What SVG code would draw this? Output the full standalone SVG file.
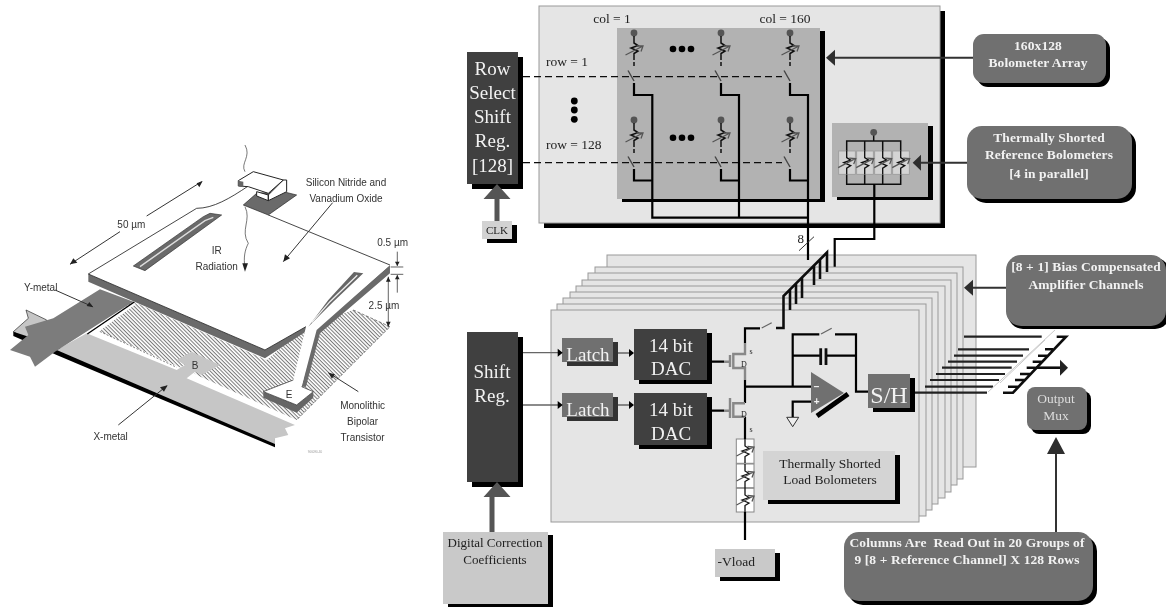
<svg xmlns="http://www.w3.org/2000/svg" width="1166" height="607" viewBox="0 0 1166 607">
<style>
text{font-family:"Liberation Serif","Times New Roman",serif;fill:#222}
.sans text,text.sans{font-family:"Liberation Sans",Arial,sans-serif;fill:#333;font-size:30px}
.m{text-anchor:middle}
.w{fill:#f2f2f2}
.cb{font-weight:bold;font-size:13.5px;fill:#f2f2f2;text-anchor:middle;letter-spacing:.1px;white-space:pre}
.l19{font-size:19px}
.l13{font-size:13.5px}
.sh{fill:#000}
.panel{fill:#e5e5e5;stroke:#999;stroke-width:1}
.inner{fill:#b2b2b2}
.dark{fill:#404040}
.call{fill:#6f6f6f}
.lt{fill:#c9c9c9}
.wire{fill:none;stroke:#000;stroke-width:2.2;stroke-linejoin:miter}
.thick{fill:none;stroke:#111;stroke-width:2.6}
.dash{fill:none;stroke:#111;stroke-width:1.2;stroke-dasharray:7 4}
.grey{fill:none;stroke:#666;stroke-width:1.3}
.gw{fill:none;stroke:#888;stroke-width:2.400}
.ptr{fill:none;stroke:#333;stroke-width:2}
.fthin{fill:none;stroke:#333;stroke-width:3}
</style>
<defs>
<filter id="soft" filterUnits="userSpaceOnUse" x="0" y="0" width="1166" height="607"><feGaussianBlur stdDeviation=".45"/></filter>
<pattern id="hatch" width="8" height="8" patternUnits="userSpaceOnUse" patternTransform="rotate(45)"><rect width="8" height="8" fill="#fff"/><rect width="8" height="3" fill="#777"/></pattern>
<g id="bolo">
<circle cx="0" cy="0" r="3.4" fill="#555"/>
<path d="M0 3V10L4 12.500L-3 15L4 18L0 20.500V27M0 29V33" fill="none" stroke="#111" stroke-width="1.500"/>
<path d="M-8.5 22L9 13M2.500 13L9 13L7 18.500" fill="none" stroke="#555" stroke-width="1.300"/>
</g>
<g id="cell">
<path d="M0 -12V-5L4 -2.500L-3 0L4 3L0 5.500V12" fill="none" stroke="#111" stroke-width="1.300"/>
<path d="M-8.500 5L8.500 -4M2.500 -4.500L9 -4L7 1.500" fill="none" stroke="#555" stroke-width="1.300"/>
</g>
<g id="sw">
<path d="M-6 -6.500L0 4" fill="none" stroke="#444" stroke-width="1.400"/>
</g>
</defs>
<g filter="url(#soft)">
<g id="bolometer-figure" transform="translate(0 130) scale(.3333)">
<path d="M40 605L85 565L78 540L140 570L100 640Z" fill="#c6c6c6" stroke="#222" stroke-width="2"/>
<path d="M40 605V618L170 675L825 952V925L170 648Z" fill="#000"/>
<path d="M290 600L400 515L800 690L920 590L1060 540L1170 590L890 870Z" fill="url(#hatch)"/>
<path d="M1060 540L1170 590L890 870" fill="none" stroke="#444" stroke-width="2" stroke-dasharray="9 5"/>
<path d="M290 600L400 515M290 600L530 712" fill="none" stroke="#444" stroke-width="2" stroke-dasharray="6 5"/>
<path d="M262 612L400 518L408 522L290 610L532 718L555 705L600 745L880 880L870 872L262 612Z" fill="#fff"/>
<path d="M170 660L260 610L530 720L555 705L530 690L575 665L660 705L605 735L585 725L560 745L885 885L855 895L865 915L825 925L825 942Z" fill="#c6c6c6"/>
<path d="M300 478L400 515L165 665L105 710L90 680L30 660L85 615L75 590L160 565Z" fill="#7c7c7c"/>
<path d="M262 612L403 516" fill="none" stroke="#000" stroke-width="4"/>
<path d="M790 785V803L890 848L940 803V785L890 825Z" fill="#666"/>
<path d="M265 432V455L795 685L925 600L915 590L795 660Z" fill="#6a6a6a"/>
<path d="M1170 405V430L960 610L918 770L905 770L945 600Z" fill="#6a6a6a"/>
<path d="M265 432L590 235C640 235 690 205 720 190L745 170L730 225L805 255L1170 405L950 600L905 770L940 785L890 825L790 785L880 750L918 590L795 660Z" fill="#fff"/>
<path d="M265 432L590 235C640 235 690 205 745 168M805 255L1170 405M795 660L265 432M795 660L918 590" fill="none" stroke="#222" stroke-width="2.500"/>
<path d="M905 770L940 785L890 825L790 785L880 750" fill="none" stroke="#222" stroke-width="2"/>
<path d="M400 408L610 260L630 250L665 255L435 422Z" fill="#6a6a6a" stroke="#333" stroke-width="2"/>
<path d="M420 410L615 272L640 262" fill="none" stroke="#ddd" stroke-width="4"/>
<path d="M1062 426L1090 430L1000 515L925 590L985 510Z" fill="#666"/>
<path d="M1072 436L990 515L935 578" fill="none" stroke="#eee" stroke-width="4"/>
<path d="M730 225L770 190L850 185L890 195L805 255Z" fill="#6a6a6a" stroke="#222" stroke-width="2"/>
<path d="M770 185L805 195V212L770 198ZM805 195L850 150L860 150V185L805 212Z" fill="#fff" stroke="#222" stroke-width="3"/>
<path d="M715 152L760 125L850 150L805 190L745 170L715 168Z" fill="#fff" stroke="#222" stroke-width="3"/>
<path d="M715 152V168L730 172V155Z" fill="#666"/>
<path d="M735 45C755 80 720 100 735 125M735 230C755 270 720 300 745 340C735 360 730 380 735 415" fill="none" stroke="#333" stroke-width="2"/>
<path d="M727 400H744L735 425Z" fill="#222"/>
<path d="M440 258L605 155M360 305L210 403" class="fthin"/>
<path d="M590 160L608 153L598 172ZM210 403L220 385L232 398Z" fill="#222"/>
<path d="M998 218L850 395" class="fthin"/><path d="M850 395L855 373L870 385Z" fill="#222"/>
<path d="M1192 365V408M1192 435V488M1165 440V590M1172 411H1210M1172 433H1210" fill="none" stroke="#444" stroke-width="2.500"/>
<path d="M1185 395H1199L1192 408ZM1185 448H1199L1192 435ZM1158 455H1172L1165 440ZM1158 575H1172L1165 590Z" fill="#222"/>
<path d="M165 480L278 530" class="fthin"/><path d="M280 532L260 528L268 516Z" fill="#222"/>
<path d="M355 885L500 768" class="fthin"/><path d="M503 766L492 785L480 772Z" fill="#222"/>
<path d="M1075 785L985 728" class="fthin"/><path d="M985 728L1005 733L996 746Z" fill="#222"/>
<g class="sans">
<text x="1038" y="167" class="m">Silicon Nitride and</text>
<text x="1038" y="215" class="m">Vanadium Oxide</text>
<text x="394" y="293" class="m">50 µm</text>
<text x="650" y="372" class="m">IR</text>
<text x="650" y="420" class="m">Radiation</text>
<text x="1178" y="347" class="m">0.5 µm</text>
<text x="1152" y="537" class="m">2.5 µm</text>
<text x="122" y="482" class="m">Y-metal</text>
<text x="332" y="930" class="m">X-metal</text>
<text x="585" y="717" class="m">B</text>
<text x="867" y="803" class="m">E</text>
<text x="1088" y="838" class="m">Monolithic</text>
<text x="1088" y="886" class="m">Bipolar</text>
<text x="1088" y="934" class="m">Transistor</text>
<text x="945" y="970" class="m" style="font-size:9px;fill:#999">906090-30</text>
</g>
</g>

<g id="array-panel">
<rect x="544" y="11" width="401" height="217" class="sh"/>
<rect x="539" y="6" width="401" height="217" class="panel"/>
<text x="612" y="23" class="m l13">col = 1</text>
<text x="785" y="23" class="m l13">col = 160</text>
<text x="546" y="66" class="l13">row = 1</text>
<text x="546" y="149" class="l13">row = 128</text>
<circle cx="574.300" cy="101" r="3.400"/><circle cx="574.300" cy="110" r="3.400"/><circle cx="574.300" cy="119.300" r="3.400"/>
</g>
<g id="bolometer-array">
<rect x="622" y="31" width="203" height="171" class="sh"/>
<rect x="617" y="28" width="203" height="171" class="inner"/>
<use href="#bolo" x="634" y="33"/><use href="#bolo" x="721" y="33"/><use href="#bolo" x="790" y="33"/>
<use href="#bolo" x="634" y="120"/><use href="#bolo" x="721" y="120"/><use href="#bolo" x="790" y="120"/>
<use href="#sw" x="634" y="77"/><use href="#sw" x="721" y="77"/><use href="#sw" x="790" y="77"/>
<use href="#sw" x="634" y="163"/><use href="#sw" x="721" y="163"/><use href="#sw" x="790" y="163"/>
<g><circle cx="673" cy="49" r="3.300"/><circle cx="682" cy="49" r="3.300"/><circle cx="691" cy="49" r="3.300"/>
<circle cx="673" cy="137.700" r="3.300"/><circle cx="682" cy="137.700" r="3.300"/><circle cx="691" cy="137.700" r="3.300"/></g>
</g>
<g id="reference-bolometers">
<rect x="837" y="126" width="96" height="74" class="sh"/>
<rect x="832" y="123" width="96" height="74" class="inner"/>
<path d="M846.700 141H900.700V184.300H846.700ZM864.700 141V184.300M882.700 141V184.300M873.700 135V141" fill="none" stroke="#111" stroke-width="1.500"/>
<g fill="#d4d4d4" stroke="#999" stroke-width=".8">
<rect x="838.700" y="151" width="16.600" height="23.300"/><rect x="856.700" y="151" width="16.600" height="23.300"/><rect x="874.700" y="151" width="16.600" height="23.300"/><rect x="892.700" y="151" width="16.600" height="23.300"/>
</g>
<circle cx="873.700" cy="132.300" r="3.400" fill="#555"/>
<use href="#cell" x="846.700" y="162.600"/><use href="#cell" x="864.700" y="162.600"/><use href="#cell" x="882.700" y="162.600"/><use href="#cell" x="900.700" y="162.600"/>
</g>

<g id="row-select">
<rect x="472" y="57" width="51" height="132" class="sh"/>
<rect x="467" y="52" width="51" height="132" class="dark"/>
<g class="m l19"><text x="492.500" y="75" class="w">Row</text><text x="492.500" y="99" class="w">Select</text><text x="492.500" y="123" class="w">Shift</text><text x="492.500" y="147" class="w">Reg.</text><text x="492.500" y="172" class="w">[128]</text></g>
</g>
<g id="clk">
<rect x="487" y="225" width="30" height="18" class="sh"/>
<rect x="482" y="221" width="30" height="18" fill="#d2d2d2"/>
<text x="497" y="234" class="m" style="font-size:11px">CLK</text>
</g>

<g id="amplifier-stack">
<rect x="607" y="255" width="369" height="212" class="panel"/>
<rect x="595" y="267" width="368" height="212" class="panel"/>
<rect x="588" y="273" width="369" height="212" class="panel"/>
<rect x="582" y="280" width="369" height="212" class="panel"/>
<rect x="576" y="286" width="369" height="212" class="panel"/>
<rect x="570" y="292" width="368" height="212" class="panel"/>
<rect x="563" y="298" width="369" height="212" class="panel"/>
<rect x="557" y="304" width="369" height="212" class="panel"/>
<rect x="551" y="310" width="368" height="212" class="panel"/>
</g>
<g id="shift-reg">
<rect x="472" y="337" width="51" height="150" class="sh"/>
<rect x="467" y="332" width="51" height="150" class="dark"/>
<text x="492" y="378" class="m l19 w">Shift</text><text x="492" y="402" class="m l19 w">Reg.</text>
</g>
<g id="latch-1"><rect x="567" y="342" width="51" height="24" fill="#333"/><rect x="562" y="338" width="51" height="24" class="call"/><text x="588" y="360.700" class="m l19 w">Latch</text></g>
<g id="latch-2"><rect x="567" y="397" width="51" height="24" fill="#333"/><rect x="562" y="393" width="51" height="24" class="call"/><text x="588" y="415.700" class="m l19 w">Latch</text></g>
<g id="dac-1"><rect x="639" y="333" width="73" height="51" class="sh"/><rect x="634" y="329" width="73" height="51" class="dark"/><text x="671" y="351.700" class="m l19 w">14 bit</text><text x="671" y="375" class="m l19 w">DAC</text></g>
<g id="dac-2"><rect x="639" y="397" width="73" height="52" class="sh"/><rect x="634" y="393" width="73" height="52" class="dark"/><text x="671" y="416" class="m l19 w">14 bit</text><text x="671" y="440" class="m l19 w">DAC</text></g>
<g id="load-bolometers">
<g fill="#fff" stroke="#888" stroke-width="1"><rect x="736.300" y="439" width="17.700" height="24.300"/><rect x="736.300" y="464" width="17.700" height="23.700"/><rect x="736.300" y="488.300" width="17.700" height="23.700"/></g>
<use href="#cell" x="745" y="451"/><use href="#cell" x="745" y="476"/><use href="#cell" x="745" y="500"/>
</g>
<g id="load-label"><rect x="768" y="455" width="132" height="49" class="sh"/><rect x="763" y="451" width="132" height="49" fill="#d4d4d4"/><text x="830" y="467.700" class="m l13">Thermally Shorted</text><text x="830" y="484.300" class="m l13">Load Bolometers</text></g>
<g id="op-amp">
<path d="M817 416L848 394" fill="none" stroke="#000" stroke-width="5"/>
<path d="M811 372L844 393L811 413Z" class="call"/>
<text x="816.700" y="390" class="m w" style="font:bold 10px 'Liberation Sans',sans-serif">−</text>
<text x="816.700" y="405" class="m w" style="font:bold 10px 'Liberation Sans',sans-serif">+</text>
<path d="M786.700 417.300H798.700L792.700 426.700Z" fill="#eee" stroke="#333" stroke-width="1"/>
</g>
<g id="sample-hold"><rect x="873" y="378" width="42" height="34" class="sh"/><rect x="868" y="374" width="42" height="34" class="call"/><text x="889" y="403" class="m w" style="font-size:24px">S/H</text></g>
<g id="coefficients"><rect x="448" y="535" width="105" height="72" class="sh"/><rect x="443" y="532" width="105" height="72" class="lt"/><text x="495" y="547.300" class="m" style="font-size:13px">Digital Correction</text><text x="495" y="564.300" class="m" style="font-size:13px">Coefficients</text></g>
<g id="vload"><rect x="720" y="553" width="60" height="28" class="sh"/><rect x="715" y="549" width="60" height="28" class="lt"/><text x="717.500" y="565.700" class="l13">-Vload</text></g>
<g id="callout-array"><rect x="977" y="38" width="133" height="49" rx="11" class="sh"/><rect x="973" y="34" width="133" height="49" rx="11" class="call"/><text x="1038" y="50" class="cb">160x128</text><text x="1038" y="66.700" class="cb">Bolometer Array</text></g>
<g id="callout-reference"><rect x="971" y="130" width="165" height="73" rx="15" class="sh"/><rect x="967" y="126" width="165" height="73" rx="15" class="call"/><text x="1049" y="141.700" class="cb">Thermally Shorted</text><text x="1049" y="159.300" class="cb">Reference Bolometers</text><text x="1049" y="177.700" class="cb">[4 in parallel]</text></g>
<g id="callout-channels"><rect x="1008" y="258" width="162" height="71" rx="15" class="sh"/><rect x="1006" y="255" width="160" height="71" rx="15" class="call"/><text x="1086" y="271" class="cb">[8 + 1] Bias Compensated</text><text x="1086" y="288.700" class="cb">Amplifier Channels</text></g>
<g id="callout-columns"><rect x="848" y="536" width="249" height="69" rx="15" class="sh"/><rect x="844" y="532" width="249" height="69" rx="15" class="call"/><text x="967" y="547.300" class="cb">Columns Are  Read Out in 20 Groups of</text><text x="967" y="564.300" class="cb">9 [8 + Reference Channel] X 128 Rows</text></g>
<g id="output-mux"><rect x="1031" y="391" width="60" height="43" rx="8" class="sh"/><rect x="1027" y="387" width="60" height="43" rx="8" class="call"/><text x="1056" y="403" class="m l13" style="fill:#ddd">Output</text><text x="1056" y="420" class="m l13" style="fill:#ddd">Mux</text></g>

<g id="connectors">
<path d="M523 76.700H782M523 162.700H782" class="dash"/>
<path d="M634 83V95H652.300V217.700H808M721 83V95H739V217.700M790 83V95H808V260M634 169V180.500H652.300M721 169V180.500H739M790 169V180.500H808" class="wire"/>
<path d="M874.300 184.300V239H834.700V266.700" class="wire"/>
<path d="M799 250.700L814 236.700" fill="none" stroke="#333" stroke-width="1"/>
<text x="800.700" y="243.300" class="m" style="font-size:13px">8</text>
<path d="M776 328H783.500V296L827 252.500V272M790 290V310M796 284V304M802 278V298M814 266V285M820 260V279" class="thick"/>
<path d="M745 343V328.300H760M745 380V403M745 416.700V439M745 512V540M745 386.700H811M792.700 386.700V334.300H819.300M835 334.300H856V391.700H868M792.700 355.700H820.700M826 355.700H856M811 401.700H792.700V417" class="wire"/>
<path d="M820.700 348.300V365M826 348.300V365" fill="none" stroke="#111" stroke-width="2.800"/>
<path d="M761.700 328L771.700 322.700M821 334L831.700 328.300" class="grey"/>
<path d="M745 343V354H733.300V368H745V380M745 403.300H733.300V416.700H745M730 355V367M730 398V418" class="gw"/>
<path d="M712 361.700H724M712 410.700H724" class="wire"/><path d="M724 361.700H730M724 410.700H730" class="gw"/>
<g style="font-size:8px"><text x="749.500" y="354">s</text><text x="741" y="367">D</text><text x="741" y="417">D</text><text x="749.500" y="432">s</text></g>
<path d="M523 352.700H558M523 405H558M618 353H630M618 405H630" class="grey"/>
<path d="M557.700 348.700L562.700 352.700L557.700 356.700ZM557.700 401L562.700 405L557.700 409ZM629 349L634 353L629 357ZM629 401L634 405L629 409Z" fill="#000"/>
<path d="M497 221V198M492 532V497" fill="none" stroke="#555" stroke-width="5"/>
<path d="M497 184L510.500 199H483.500ZM497 482L510.500 497H483.500Z" fill="#555"/>
<path d="M973 57.700H833M967 162.700H919M1006 287.700H971M1056 532V452" class="ptr"/>
<path d="M826 57.700L835 49.700V65.700ZM912.700 162.700L921 154.700V170.700ZM964 287.700L973 279.700V295.700ZM1056 437L1065 454H1047Z" fill="#2d2d2d"/>
<path d="M915 392.700H987M925 386.700H993M930 380H999M936 374H1005M942 367.700H1011.700M948 361.700H1017M954 355.700H1023M958 349.300H1029M964 336.700H1041.700" fill="none" stroke="#222" stroke-width="2.200"/>
<path d="M988 392L1055 330M1000 383L1045 340" fill="none" stroke="#bbb" stroke-width=".8"/>
<path d="M1003 392.700H1013L1066 336.700H1056.700M1008 386.700H1018M1015 380H1025M1020 374H1030M1026.700 367.700H1036.700M1032.700 361.700H1041.700M1038 355.700H1048M1045 349.300H1053" class="thick"/>
<path d="M1036 367.700H1060" class="thick"/><path d="M1068 367.700L1060 359.700V375.700Z" fill="#222"/>
</g>
</g>
</svg>
